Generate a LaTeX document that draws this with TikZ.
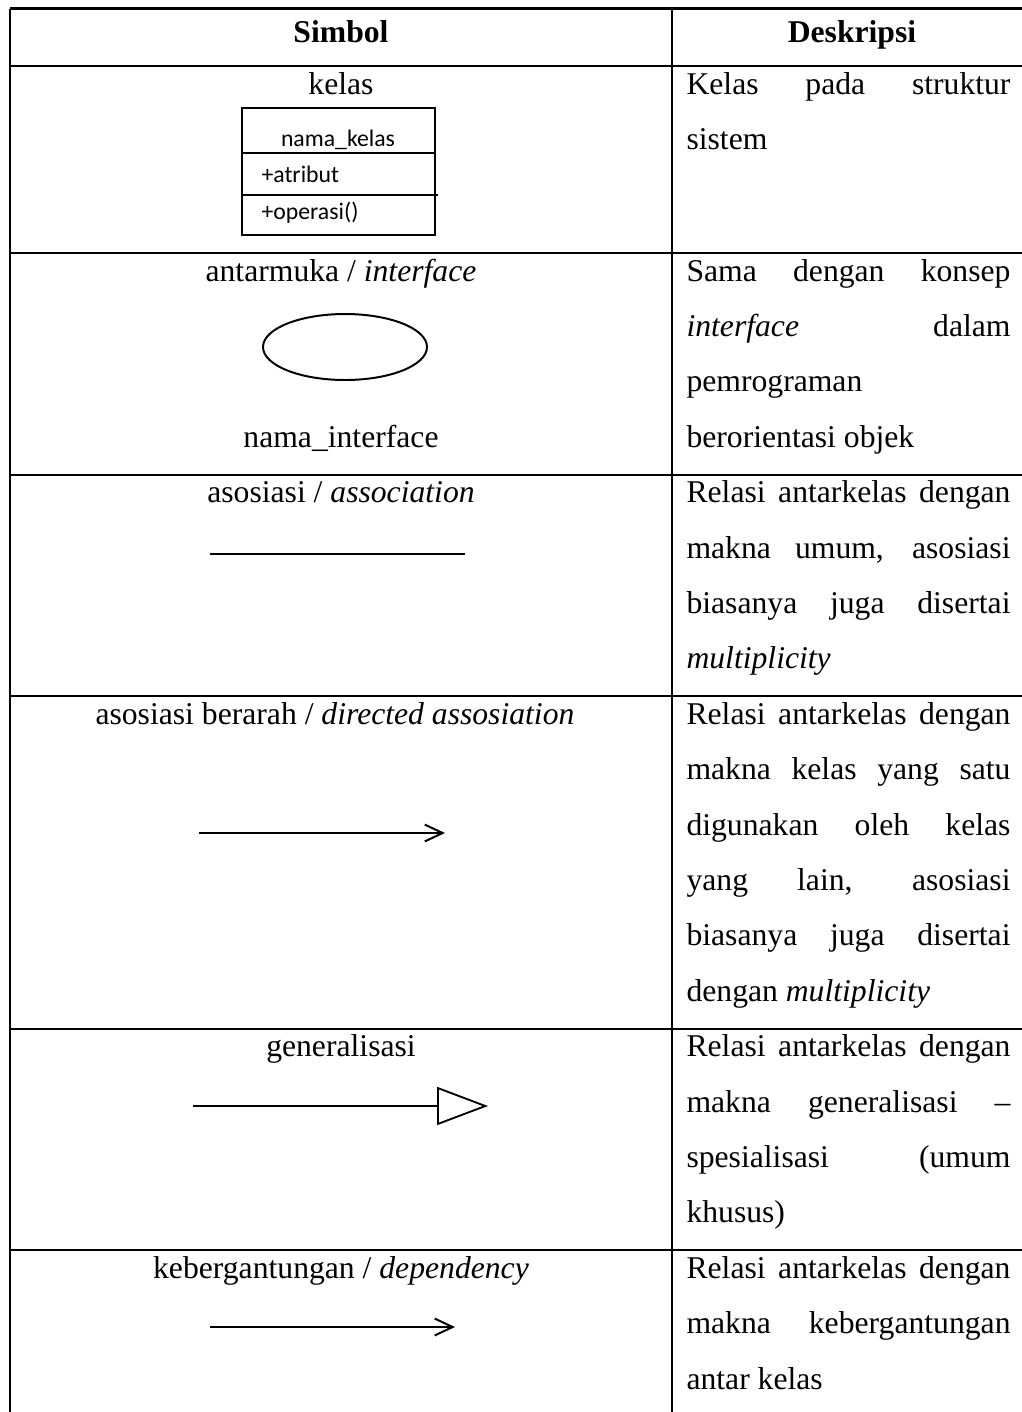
\documentclass[tikz,border=0pt]{standalone}
\usepackage{fontspec}
\setmainfont{Liberation Serif}
\newfontfamily\umlfont{Carlito}
\usetikzlibrary{arrows.meta,shapes.geometric}
% width of a justified line in the description column
\newlength\descw
\setlength\descw{122.8pt}
\newcommand\jline[1]{\makebox[\descw][s]{#1}}

\begin{document}
\begin{tikzpicture}[x=0.379pt,y=-0.379pt,
  rule/.style={line width=0.8pt},
  sym/.style={line width=0.75pt},
  txt/.style={inner sep=0pt, font=\fontsize{12}{14}\selectfont},
  head/.style={inner sep=0pt, anchor=base, font=\fontsize{12}{14}\selectfont\bfseries},
  desc/.style={txt, anchor=base west},
  title/.style={txt, anchor=base},
  uml/.style={inner sep=0pt, font=\umlfont\fontsize{9}{11}\selectfont},
  barb/.style={sym, -{Straight Barb[length=6.8pt,width=6.4pt,line width=0.75pt]}},
  gen/.style={sym, -{Triangle[open,length=19.3pt,width=14.4pt,line width=0.7pt]}},
  ]
\useasboundingbox (0,0) rectangle (1022,1412);

% table rules
\draw[rule] (10,8.5) -- (1022,8.5);
\foreach \y in {66,253,474.6,696.2,1028.6,1250.2}
  \draw[rule] (10,\y) -- (1022,\y);
\draw[rule] (10,8.5) -- (10,1412);
\draw[rule] (672,8.5) -- (672,1412);

% header
\node[head] (hsym) at (341,42) {Simbol};
\node[head] (hdesc) at (852,42) {Deskripsi};

% row 1: class
\node[title] (tcls) at (341,94) {kelas};
\node[draw, line width=0.75pt, minimum width=193*0.379pt, minimum height=127*0.379pt,
      inner sep=0pt] (cls) at (338.5,171.5) {};
\draw[line width=0.75pt] (cls.west |- 0,153) -- (cls.east |- 0,153);
\draw[line width=0.75pt] (cls.west |- 0,195) -- ([xshift=0.8pt]cls.east |- 0,195);
\node[uml, anchor=base] (cname) at (338,146) {nama\_kelas};
\node[uml, anchor=base west] (cattr) at (261,182) {+atribut};
\node[uml, anchor=base west] (cop) at (261,219) {+operasi()};
\node[desc] (d11) at (686,94) {\jline{Kelas pada struktur}};
\node[desc] (d12) at (686,149.4) {sistem};

% row 2: interface
\node[title] (tifc) at (341,281) {antarmuka / \textit{interface}};
\node[draw, sym, ellipse, minimum width=164*0.379pt, minimum height=66*0.379pt,
      inner sep=0pt] (ifc) at (345,347) {};
\node[title] (nifc) at (341,447.2) {nama\_interface};
\node[desc] (d21) at (686,281) {\jline{Sama dengan konsep}};
\node[desc] (d22) at (686,336.4) {\jline{\textit{interface} dalam}};
\node[desc] (d23) at (686,391.8) {pemrograman};
\node[desc] (d24) at (686,447.2) {berorientasi objek};

% row 3: association
\node[title] (tasc) at (341,502.6) {asosiasi / \textit{association}};
\coordinate (asc1) at (210,554);
\coordinate (asc2) at (465,554);
\draw[sym] (asc1) -- (asc2);
\node[desc] (d31) at (686,502.6) {\jline{Relasi antarkelas dengan}};
\node[desc] (d32) at (686,558) {\jline{makna umum, asosiasi}};
\node[desc] (d33) at (686,613.4) {\jline{biasanya juga disertai}};
\node[desc] (d34) at (686,668.8) {\textit{multiplicity}};

% row 4: directed association
\node[title] (tdir) at (335,724.2) {asosiasi berarah / \textit{directed assosiation}};
\coordinate (dir1) at (199,833);
\coordinate (dir2) at (445,833);
\draw[barb] (dir1) -- (dir2);
\node[desc] (d41) at (686,724.2) {\jline{Relasi antarkelas dengan}};
\node[desc] (d42) at (686,779.6) {\jline{makna kelas yang satu}};
\node[desc] (d43) at (686,835) {\jline{digunakan oleh kelas}};
\node[desc] (d44) at (686,890.4) {\jline{yang lain, asosiasi}};
\node[desc] (d45) at (686,945.8) {\jline{biasanya juga disertai}};
\node[desc] (d46) at (686,1001.2) {dengan \textit{multiplicity}};

% row 5: generalization
\node[title] (tgen) at (341,1056.6) {generalisasi};
\coordinate (gen1) at (193,1106);
\coordinate (gen2) at (488,1106);
\draw[gen] (gen1) -- (gen2);
\node[desc] (d51) at (686,1056.6) {\jline{Relasi antarkelas dengan}};
\node[desc] (d52) at (686,1112) {\jline{makna generalisasi --}};
\node[desc] (d53) at (686,1167.4) {\jline{spesialisasi (umum}};
\node[desc] (d54) at (686,1222.8) {khusus)};

% row 6: dependency
\node[title] (tdep) at (341,1278.2) {kebergantungan / \textit{dependency}};
\coordinate (dep1) at (210,1327);
\coordinate (dep2) at (455,1327);
\draw[barb] (dep1) -- (dep2);
\node[desc] (d61) at (686,1278.2) {\jline{Relasi antarkelas dengan}};
\node[desc] (d62) at (686,1333.6) {\jline{makna kebergantungan}};
\node[desc] (d63) at (686,1389) {antar kelas};
\end{tikzpicture}
\end{document}
